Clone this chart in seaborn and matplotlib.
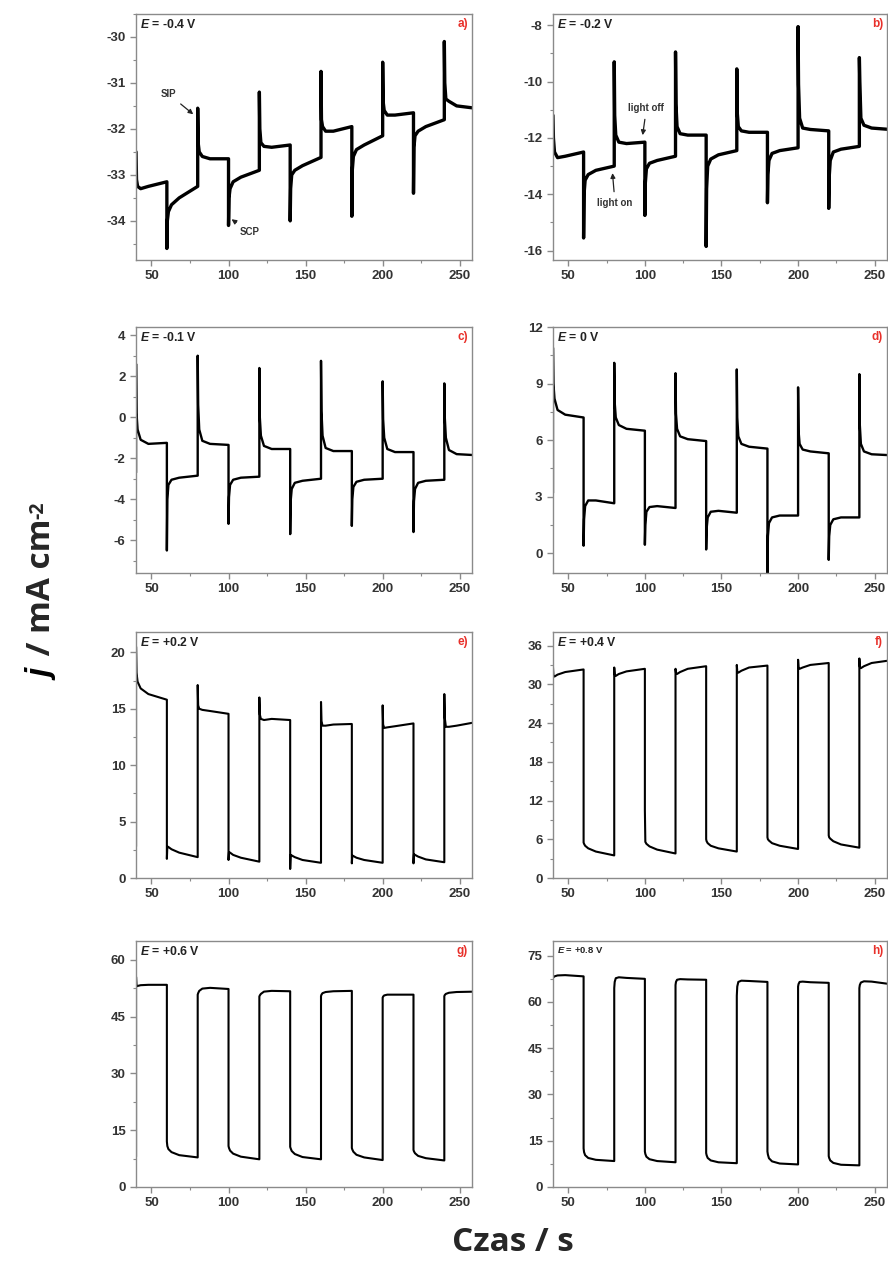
import numpy as np
import pandas as pd
import matplotlib
matplotlib.use('Agg')
import matplotlib.pyplot as plt
from matplotlib.ticker import MultipleLocator
import seaborn as sns

# light switched every 20 s; each row holds j at (switch time + knot offset)
switch_times = [40, 60, 80, 100, 120, 140, 160, 180, 200, 220, 240]
knot_offsets = [0.0, 0.3, 1.0, 3.0, 8.0, 20.0]

j_a = [[-32.5, -33.1, -33.25, -33.3, -33.25, -33.15],
       [-34.6, -34.0, -33.8, -33.65, -33.5, -33.25],
       [-31.55, -32.3, -32.5, -32.6, -32.65, -32.65],
       [-34.1, -33.5, -33.3, -33.15, -33.05, -32.9],
       [-31.2, -32.0, -32.3, -32.38, -32.4, -32.35],
       [-34.0, -33.3, -33.0, -32.9, -32.8, -32.62],
       [-30.75, -31.8, -31.95, -32.05, -32.05, -31.95],
       [-33.9, -32.9, -32.6, -32.45, -32.35, -32.15],
       [-30.55, -31.4, -31.6, -31.7, -31.7, -31.65],
       [-33.4, -32.4, -32.15, -32.05, -31.95, -31.8],
       [-30.1, -31.0, -31.35, -31.4, -31.5, -31.55]]

j_b = [[-11.2, -12.0, -12.5, -12.7, -12.65, -12.5],
       [-15.55, -14.0, -13.5, -13.3, -13.15, -13.0],
       [-9.3, -11.2, -11.9, -12.15, -12.2, -12.15],
       [-14.75, -13.6, -13.1, -12.9, -12.8, -12.65],
       [-8.95, -10.8, -11.6, -11.85, -11.9, -11.9],
       [-15.85, -13.8, -13.0, -12.75, -12.6, -12.45],
       [-9.55, -11.1, -11.6, -11.75, -11.8, -11.8],
       [-14.3, -13.3, -12.8, -12.55, -12.45, -12.35],
       [-8.05, -10.1, -11.3, -11.65, -11.7, -11.75],
       [-14.5, -13.4, -12.8, -12.5, -12.4, -12.3],
       [-9.15, -10.0, -11.3, -11.55, -11.65, -11.7]]

j_c = [[2.6, 0.2, -0.6, -1.1, -1.3, -1.25],
       [-6.5, -4.0, -3.3, -3.05, -2.95, -2.85],
       [3.0, 0.6, -0.6, -1.15, -1.3, -1.35],
       [-5.2, -3.9, -3.3, -3.05, -2.95, -2.9],
       [2.4, 0.0, -0.9, -1.4, -1.55, -1.55],
       [-5.7, -4.1, -3.5, -3.2, -3.1, -3.0],
       [2.75, 0.3, -0.9, -1.5, -1.65, -1.65],
       [-5.3, -4.0, -3.4, -3.15, -3.05, -3.0],
       [1.75, -0.1, -1.0, -1.55, -1.7, -1.7],
       [-5.6, -4.1, -3.5, -3.2, -3.1, -3.05],
       [1.65, 0.0, -1.0, -1.6, -1.8, -1.85]]

j_d = [[10.9, 9.0, 8.2, 7.6, 7.35, 7.2],
       [0.4, 1.8, 2.5, 2.8, 2.8, 2.65],
       [10.1, 8.0, 7.2, 6.8, 6.6, 6.5],
       [0.45, 1.5, 2.2, 2.45, 2.5, 2.4],
       [9.55, 7.4, 6.6, 6.2, 6.05, 5.95],
       [0.2, 1.3, 1.9, 2.2, 2.25, 2.15],
       [9.75, 7.2, 6.2, 5.8, 5.65, 5.55],
       [-1.1, 0.9, 1.6, 1.9, 2.0, 2.0],
       [8.8, 6.5, 5.8, 5.5, 5.4, 5.3],
       [-0.35, 0.9, 1.5, 1.8, 1.9, 1.9],
       [9.5, 6.8, 5.8, 5.4, 5.25, 5.2]]

j_e = [[20.5, 18.2, 17.4, 16.8, 16.3, 15.8],
       [1.7, 2.8, 2.75, 2.55, 2.25, 1.85],
       [17.1, 15.3, 15.0, 14.9, 14.8, 14.55],
       [1.6, 2.3, 2.25, 2.05, 1.8, 1.45],
       [16.0, 14.5, 14.1, 14.0, 14.1, 14.0],
       [0.8, 2.05, 2.0, 1.85, 1.6, 1.35],
       [15.6, 13.9, 13.5, 13.5, 13.6, 13.65],
       [1.3, 2.0, 1.95, 1.8, 1.6, 1.35],
       [15.3, 13.6, 13.3, 13.35, 13.45, 13.7],
       [1.3, 2.1, 2.05, 1.9, 1.65, 1.4],
       [16.3, 14.2, 13.4, 13.4, 13.5, 13.8]]

j_f = [[32.7, 31.4, 31.2, 31.5, 31.9, 32.3],
       [5.5, 5.3, 5.0, 4.6, 4.1, 3.5],
       [32.6, 31.5, 31.3, 31.6, 32.0, 32.4],
       [10.5, 5.6, 5.3, 4.9, 4.4, 3.8],
       [32.4, 31.8, 31.6, 31.9, 32.4, 32.8],
       [6.0, 5.7, 5.4, 5.0, 4.6, 4.1],
       [33.0, 32.0, 31.8, 32.1, 32.6, 32.9],
       [6.3, 6.0, 5.8, 5.4, 5.0, 4.5],
       [33.8, 32.6, 32.4, 32.6, 33.0, 33.3],
       [6.6, 6.3, 6.1, 5.7, 5.2, 4.7],
       [34.0, 32.7, 32.5, 32.8, 33.3, 33.7]]

j_g = [[55.5, 53.0, 53.1, 53.3, 53.4, 53.4],
       [12.0, 10.8, 10.0, 9.2, 8.4, 7.8],
       [50.8, 51.2, 51.8, 52.4, 52.6, 52.3],
       [10.8, 10.3, 9.6, 8.8, 8.0, 7.3],
       [50.3, 50.6, 51.0, 51.6, 51.8, 51.7],
       [10.6, 10.2, 9.5, 8.7, 7.9, 7.3],
       [50.4, 50.8, 51.2, 51.5, 51.7, 51.8],
       [10.3, 9.9, 9.3, 8.5, 7.8, 7.1],
       [50.0, 50.3, 50.6, 50.8, 50.8, 50.8],
       [9.8, 9.4, 8.9, 8.2, 7.6, 7.0],
       [50.4, 50.7, 51.0, 51.3, 51.5, 51.6]]

j_h = [[67.8, 68.0, 68.3, 68.6, 68.7, 68.3],
       [12.5, 11.3, 10.3, 9.4, 8.8, 8.4],
       [64.5, 66.5, 67.7, 68.0, 67.8, 67.5],
       [11.5, 10.7, 9.8, 9.0, 8.4, 8.0],
       [65.5, 66.5, 67.2, 67.4, 67.3, 67.2],
       [11.0, 10.3, 9.4, 8.6, 8.0, 7.7],
       [62.0, 65.0, 66.5, 66.9, 66.8, 66.5],
       [11.5, 10.5, 9.3, 8.3, 7.6, 7.3],
       [65.0, 65.8, 66.5, 66.6, 66.4, 66.2],
       [10.0, 9.4, 8.6, 7.8, 7.2, 7.0],
       [64.5, 65.5, 66.3, 66.7, 66.6, 65.8]]

# value at t = 40 s before the first spike (None = no lead-in)
lead_in = [None, None, -2.7, 3.2, 2.8, None, 8.0, None]

potentials = ['-0.4 V', '-0.2 V', '-0.1 V', '0 V', '+0.2 V', '+0.4 V', '+0.6 V', '+0.8 V']
letters = ['a)', 'b)', 'c)', 'd)', 'e)', 'f)', 'g)', 'h)']
ylims = [(-34.85, -29.5), (-16.33, -7.6), (-7.6, 4.4), (-1.05, 12.0),
         (0, 21.8), (0, 38.1), (0, 65), (0, 79.8)]
ysteps = [1, 2, 2, 3, 5, 6, 15, 15]
all_j = [j_a, j_b, j_c, j_d, j_e, j_f, j_g, j_h]
line_w = [2.4, 2.4, 1.7, 1.7, 1.5, 1.5, 1.5, 1.5]

sns.set_style('ticks')
plt.rcParams['font.family'] = ['Liberation Sans', 'DejaVu Sans']
plt.rcParams['axes.unicode_minus'] = False
plt.rcParams['mathtext.fontset'] = 'custom'
plt.rcParams['mathtext.it'] = 'Liberation Sans:italic:bold'
plt.rcParams['mathtext.rm'] = 'Liberation Sans:bold'


def trace(lead, rows):
    t, j = [], []
    if lead is not None:
        t.append(40.0)
        j.append(lead)
    for t0, row in zip(switch_times, rows):
        t.extend(t0 + o for o in knot_offsets)
        j.extend(row)
    return pd.DataFrame({'t': t, 'j': j})


fig = plt.figure(figsize=(8.88, 12.65), dpi=100)
col_x = [0.1532, 0.6227]
col_w = [0.3784, 0.3761]
row_y = [0.7945, 0.5470, 0.3059, 0.0617]
row_h = 0.1945

axes = []
for i in range(8):
    r, c = divmod(i, 2)
    ax = fig.add_axes([col_x[c], row_y[r], col_w[c], row_h])
    axes.append(ax)
    df = trace(lead_in[i], all_j[i])
    sns.lineplot(data=df, x='t', y='j', sort=False, estimator=None,
                 color='black', lw=line_w[i], ax=ax)
    ax.set_xlim(40, 258)
    ax.set_ylim(*ylims[i])
    ax.xaxis.set_major_locator(MultipleLocator(50))
    ax.xaxis.set_minor_locator(MultipleLocator(25))
    ax.yaxis.set_major_locator(MultipleLocator(ysteps[i]))
    ax.yaxis.set_minor_locator(MultipleLocator(ysteps[i] / 2))
    ax.set_xlabel('')
    ax.set_ylabel('')
    for sp in ax.spines.values():
        sp.set_color('#8a8a8a')
        sp.set_linewidth(1.0)
    ax.tick_params(which='major', direction='out', length=4, width=1,
                   color='#8a8a8a', labelsize=9.5, labelcolor='#333333')
    ax.tick_params(which='minor', direction='out', length=2.5, width=0.8,
                   color='#8a8a8a')
    for lab in ax.get_xticklabels() + ax.get_yticklabels():
        lab.set_fontweight('bold')
    esize = 6.8 if i == 7 else 8.8
    ax.text(0.012, 0.985, r'$\mathit{E}$ = ' + potentials[i], transform=ax.transAxes,
            ha='left', va='top', fontsize=esize, fontweight='bold', color='#222222')
    ax.text(0.988, 0.985, letters[i], transform=ax.transAxes, ha='right', va='top',
            fontsize=8.5, fontweight='bold', color='#e8302a')

# annotations on panel a and b
arrow = dict(arrowstyle='-|>', color='#222222', lw=0.9, mutation_scale=7)
axes[0].annotate('SIP', xy=(78.5, -31.72), xytext=(61, -31.24), fontsize=7,
                 fontweight='bold', color='#333333', ha='center', va='center',
                 arrowprops=arrow)
axes[0].annotate('SCP', xy=(100.5, -33.93), xytext=(114, -34.25), fontsize=7,
                 fontweight='bold', color='#333333', ha='center', va='center',
                 arrowprops=arrow)
axes[1].annotate('light off', xy=(98.3, -12.0), xytext=(101, -10.95), fontsize=7,
                 fontweight='bold', color='#333333', ha='center', va='center',
                 arrowprops=arrow)
axes[1].annotate('light on', xy=(78.7, -13.15), xytext=(80.5, -14.3), fontsize=7,
                 fontweight='bold', color='#333333', ha='center', va='center',
                 arrowprops=arrow)

# shared axis titles: italic j, then the unit, then a small superscript
label_font = ['Open Sans', 'DejaVu Sans']
jt = fig.text(0.046, 0.4625, r'$\mathit{j}$', rotation=90, ha='center', va='bottom',
              fontsize=24, color='black')
unit = fig.add_artist(plt.Annotation(' / mA cm', xy=(1, 1), xycoords=jt,
                                     rotation=90, ha='right', va='bottom', fontsize=24,
                                     fontweight='bold', family=label_font))
fig.add_artist(plt.Annotation('-2', xy=(0.1, 1), xycoords=unit,
                              rotation=90, ha='left', va='bottom', fontsize=14,
                              fontweight='bold', family=label_font))
fig.text(0.577, 0.018, 'Czas / s', ha='center', va='center', fontsize=24,
         fontweight='bold', family=label_font)

fig.savefig('out.png', dpi=100, facecolor='white')
